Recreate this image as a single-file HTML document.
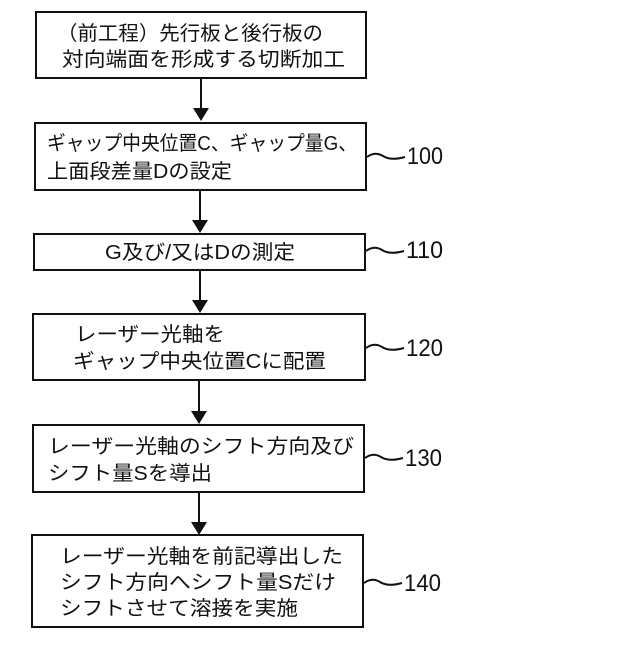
<!DOCTYPE html>
<html><head><meta charset="utf-8"><style>
html,body{margin:0;padding:0;background:#fff;}
svg text{font-family:"Liberation Sans","Noto Sans CJK JP",sans-serif;fill:#111;font-size:20px;}
.n{font-size:24px;}
</style></head><body>
<svg width="640" height="640" viewBox="0 0 640 640" xmlns="http://www.w3.org/2000/svg">
<g fill="none" stroke="#111" stroke-width="2">
<rect x="36" y="12" width="330" height="66"/>
<rect x="35" y="123" width="331" height="67"/>
<rect x="34" y="234" width="331" height="36"/>
<rect x="33" y="314" width="332" height="66"/>
<rect x="33" y="425" width="331" height="67"/>
<rect x="32" y="535" width="331" height="92"/>
<line x1="201" y1="78" x2="201" y2="110"/>
<line x1="200" y1="190" x2="200" y2="222"/>
<line x1="200" y1="270" x2="200" y2="302"/>
<line x1="199" y1="380" x2="199" y2="413"/>
<line x1="199" y1="492" x2="199" y2="524"/>
<path d="M367 157 q8 -6 16 -1 t22 1"/>
<path d="M366 251 q8 -6 16 -1 t22 1"/>
<path d="M366 348 q8 -6 16 -1 t22 1"/>
<path d="M365 458 q8 -6 16 -1 t22 1"/>
<path d="M364 583 q8 -6 16 -1 t22 1"/>
</g>
<g fill="#111">
<polygon points="193,108 209,108 201,121"/>
<polygon points="192,220 208,220 200,233"/>
<polygon points="192,300 208,300 200,313"/>
<polygon points="191,411 207,411 199,424"/>
<polygon points="191,522 207,522 199,535"/>
</g>
<text x="57" y="40" textLength="266" lengthAdjust="spacingAndGlyphs">（前工程）先行板と後行板の</text>
<text x="62" y="66" textLength="283" lengthAdjust="spacingAndGlyphs">対向端面を形成する切断加工</text>
<text x="47" y="150" textLength="310" lengthAdjust="spacingAndGlyphs">ギャップ中央位置C、ギャップ量G、</text>
<text x="47" y="178" textLength="185" lengthAdjust="spacingAndGlyphs">上面段差量Dの設定</text>
<text x="105" y="259" textLength="190" lengthAdjust="spacingAndGlyphs">G及び/又はDの測定</text>
<text x="75" y="341" textLength="150" lengthAdjust="spacingAndGlyphs">レーザー光軸を</text>
<text x="73" y="368" textLength="253" lengthAdjust="spacingAndGlyphs">ギャップ中央位置Cに配置</text>
<text x="48" y="453" textLength="306" lengthAdjust="spacingAndGlyphs">レーザー光軸のシフト方向及び</text>
<text x="48" y="480" textLength="164" lengthAdjust="spacingAndGlyphs">シフト量Sを導出</text>
<text x="60" y="563" textLength="283" lengthAdjust="spacingAndGlyphs">レーザー光軸を前記導出した</text>
<text x="60" y="589" textLength="276" lengthAdjust="spacingAndGlyphs">シフト方向へシフト量Sだけ</text>
<text x="60" y="615" textLength="238" lengthAdjust="spacingAndGlyphs">シフトさせて溶接を実施</text>
<text class="n" x="407" y="164" textLength="36" lengthAdjust="spacingAndGlyphs">100</text>
<text class="n" x="406" y="258" textLength="37" lengthAdjust="spacingAndGlyphs">110</text>
<text class="n" x="406" y="356" textLength="37" lengthAdjust="spacingAndGlyphs">120</text>
<text class="n" x="405" y="466" textLength="37" lengthAdjust="spacingAndGlyphs">130</text>
<text class="n" x="404" y="591" textLength="37" lengthAdjust="spacingAndGlyphs">140</text>
</svg>
</body></html>
